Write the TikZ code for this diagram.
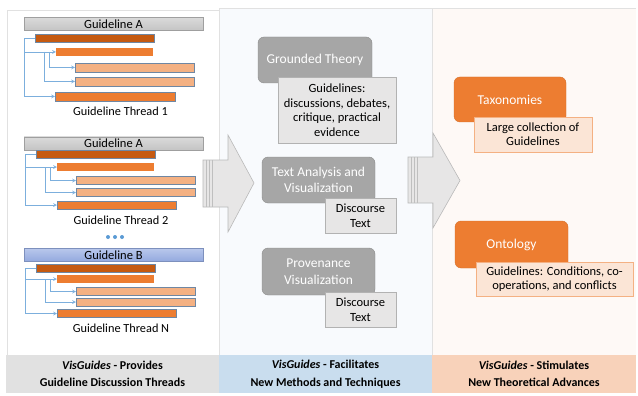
\documentclass[tikz,border=0pt]{standalone}
\usepackage{fontspec}
\setmainfont{Carlito}
\usetikzlibrary{arrows,positioning}

\definecolor{dkorange}{HTML}{C55A11}
\definecolor{midorange}{HTML}{ED7D31}
\definecolor{ltorange}{HTML}{F4B183}
\definecolor{paleorange}{HTML}{FBE5D6}
\definecolor{linkblue}{HTML}{5B9BD5}
\definecolor{barline}{HTML}{6F87A3}
\definecolor{boxgray}{HTML}{A6A6A6}
\definecolor{notegray}{HTML}{E7E6E6}
\definecolor{panelline}{HTML}{E1E1E1}
\definecolor{midbg}{HTML}{F8FAFD}
\definecolor{rightbg}{HTML}{FEF9F6}
\definecolor{bandgray}{HTML}{E1E1E1}
\definecolor{bandblue}{HTML}{C9DDEE}
\definecolor{bandorange}{HTML}{F8D2BA}
\definecolor{hdrtop}{HTML}{DADADA}
\definecolor{hdrbot}{HTML}{C4C4C4}
\definecolor{hdrbtop}{HTML}{B8C7EC}
\definecolor{hdrbbot}{HTML}{93A9DE}

\begin{document}
\begin{tikzpicture}[x=1pt, y=-1pt, font=\fontsize{12}{14.5}\selectfont,
    bar/.style={rectangle, draw=barline, line width=0.5pt, anchor=west, inner sep=0pt, minimum height=8pt},
    header/.style={rectangle, draw=gray!75, top color=hdrtop, bottom color=hdrbot, minimum width=179pt, minimum height=13pt, inner sep=0pt, font=\fontsize{12.5}{14}\selectfont},
    headerb/.style={header, draw=hdrbbot!85!black, top color=hdrbtop, bottom color=hdrbbot},
    thread/.style={inner sep=0pt, font=\fontsize{12.3}{14}\selectfont},
    link/.style={linkblue!80, line width=0.7pt, -stealth},
    method/.style={rectangle, rounded corners=6pt, draw=gray!90, fill=boxgray, text=white, align=center, inner sep=0pt},
    note/.style={rectangle, draw=gray!60, fill=notegray, align=center, inner sep=0pt},
    theory/.style={method, draw=midorange!90!black, fill=midorange},
    tnote/.style={note, draw=ltorange, fill=paleorange},
    band/.style={rectangle, inner sep=0pt, minimum height=38pt, align=center, font=\fontsize{12}{17.5}\selectfont\bfseries},
    bigarrow/.style={fill=notegray, draw=gray!55, line width=0.6pt}]

    \useasboundingbox (0,0) rectangle (638,396);

    % panels
    \fill[white] (7,10) rectangle (219,355);
    \draw[panelline] (7,355) -- (7,10) -- (219,10);
    \fill[midbg] (219,8) rectangle (432,355);
    \fill[rightbg] (432,8) rectangle (636,355);
    \draw[panelline] (219,355) -- (219,8) -- (636,8);
    \draw[panelline] (432,8) -- (432,355);

    % thread 1
    \node[header] (t1h) at (113.5,24) {Guideline A};
    \node[bar, fill=dkorange, minimum width=119pt] (t1b1) at (35,38.5) {};
    \node[bar, draw=none, fill=midorange, minimum width=97pt] (t1b2) at (56,52) {};
    \node[bar, fill=ltorange, minimum width=119pt, minimum height=9pt] (t1b3) at (75,67.5) {};
    \node[bar, fill=ltorange, minimum width=119pt, minimum height=9pt] (t1b4) at (75,81.5) {};
    \node[bar, fill=midorange, minimum width=120pt, minimum height=9pt] (t1b5) at (55,96.5) {};
    \node[thread] (t1t) at (120.5,111) {Guideline Thread 1};
    \draw[link] (t1b1.west) -- ++(-11pt,0) |- (t1b5.west);
    \draw[link] ([xshift=-11pt]t1b1.west) |- (t1b2.west);
    \draw[link] ([xshift=-7pt]t1b2.west) |- (t1b3.west);
    \draw[link] ([xshift=-12pt]t1b2.west) |- (t1b4.west);

    % thread 2
    \node[header] (t2h) at (113.5,143.5) {Guideline A};
    \node[bar, fill=dkorange, minimum width=119pt] (t2b1) at (36,154.5) {};
    \node[bar, draw=none, fill=midorange, minimum width=97pt] (t2b2) at (57,167) {};
    \node[bar, fill=ltorange, minimum width=119pt] (t2b3) at (76,180.5) {};
    \node[bar, fill=ltorange, minimum width=119pt] (t2b4) at (76,192.5) {};
    \node[bar, fill=midorange, minimum width=119pt] (t2b5) at (57,205) {};
    \node[thread] (t2t) at (121,220) {Guideline Thread 2};
    \draw[link] (t2b1.west) -- ++(-11pt,0) |- (t2b5.west);
    \draw[link] ([xshift=-11pt]t2b1.west) |- (t2b2.west);
    \draw[link] ([xshift=-7pt]t2b2.west) |- (t2b3.west);
    \draw[link] ([xshift=-12pt]t2b2.west) |- (t2b4.west);

    % dots
    \fill[linkblue] (108,237) circle (2pt) (115,237) circle (2pt) (122,237) circle (2pt);

    % thread N
    \node[headerb] (tnh) at (113.5,255) {Guideline B};
    \node[bar, fill=dkorange, minimum width=119pt] (tnb1) at (36,268.5) {};
    \node[bar, draw=none, fill=midorange, minimum width=97pt] (tnb2) at (57,279) {};
    \node[bar, fill=ltorange, minimum width=119pt] (tnb3) at (76,291.5) {};
    \node[bar, fill=ltorange, minimum width=119pt] (tnb4) at (76,302) {};
    \node[bar, fill=midorange, minimum width=119pt] (tnb5) at (57,313.5) {};
    \node[thread] (tnt) at (121,328) {Guideline Thread N};
    \draw[link] (tnb1.west) -- ++(-11pt,0) |- (tnb5.west);
    \draw[link] ([xshift=-11pt]tnb1.west) |- (tnb2.west);
    \draw[link] ([xshift=-7pt]tnb2.west) |- (tnb3.west);
    \draw[link] ([xshift=-12pt]tnb2.west) |- (tnb4.west);

    % big arrows
    \draw[bigarrow] (203,160) -- (228,160) -- (228,135) -- (254,183) -- (228,232) -- (228,207) -- (203,207) -- cycle;
    \draw[gray!50] (206,160) -- (206,207) (209,160) -- (209,207) (212,160) -- (212,207);
    \draw[bigarrow] (408,157) -- (433,157) -- (433,133) -- (460,180.5) -- (433,228) -- (433,203) -- (408,203) -- cycle;
    \draw[gray!50] (411,157) -- (411,203) (414,157) -- (414,203) (417,157) -- (417,203);

    % methods
    \node[method, minimum width=114pt, minimum height=46pt, font=\fontsize{13.5}{15}\selectfont] (gt) at (315,60) {Grounded Theory};
    \node[note, minimum width=118pt, minimum height=66pt, font=\fontsize{12.5}{14.5}\selectfont] (gtnote) at (337,110) {Guidelines:\\discussions, debates,\\critique, practical\\evidence};
    \node[method, minimum width=113pt, minimum height=46pt, font=\fontsize{13.5}{16.5}\selectfont] (ta) at (318.5,180) {Text Analysis and\\Visualization};
    \node[note, minimum width=71pt, minimum height=35pt, font=\fontsize{12.5}{14.5}\selectfont] (tanote) at (360.5,215.5) {Discourse\\Text};
    \node[method, minimum width=113pt, minimum height=47pt, font=\fontsize{13.5}{16.5}\selectfont] (pv) at (318.5,271.5) {Provenance\\Visualization};
    \node[note, minimum width=71pt, minimum height=35pt, font=\fontsize{12.5}{14.5}\selectfont] (pvnote) at (360.5,309.5) {Discourse\\Text};

    % theory
    \node[theory, minimum width=112pt, minimum height=45pt, font=\fontsize{13.5}{15}\selectfont] (tax) at (510,99.5) {Taxonomies};
    \node[tnote, minimum width=118pt, minimum height=35pt, font=\fontsize{12.5}{14}\selectfont] (taxnote) at (533,134.5) {Large collection of\\Guidelines};
    \node[theory, minimum width=113pt, minimum height=47pt, font=\fontsize{13.5}{15}\selectfont] (ont) at (511.5,244.5) {Ontology};
    \node[tnote, minimum width=157pt, minimum height=34pt, font=\fontsize{12.5}{14}\selectfont] (ontnote) at (554.5,279) {Guidelines: Conditions, co-\\operations, and conflicts};

    % bands
    \node[band, fill=bandgray, minimum width=213pt] (leftband) at (112.5,374) {\textit{VisGuides} - Provides\\Guideline Discussion Threads};
    \node[band, fill=bandblue, minimum width=213pt] (midband) at (325.5,374) {\textit{VisGuides} - Facilitates\\New Methods and Techniques};
    \node[band, fill=bandorange, minimum width=204pt] (rightband) at (534,374) {\textit{VisGuides} - Stimulates\\New Theoretical Advances};
\end{tikzpicture}
\end{document}
